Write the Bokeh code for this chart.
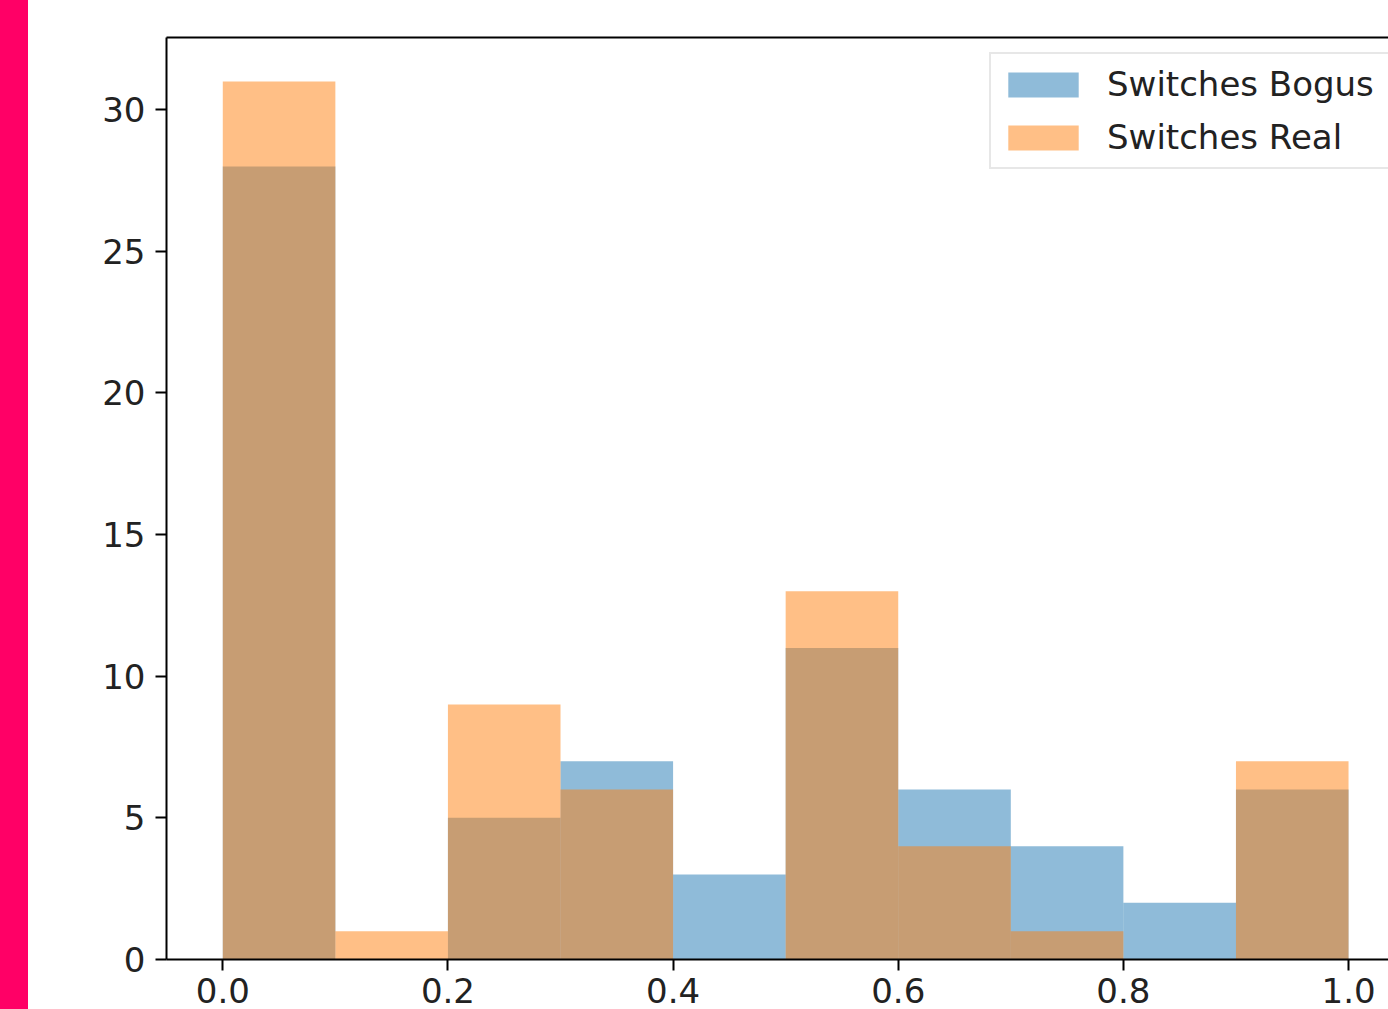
from bokeh.plotting import figure
from bokeh.models import (Range1d, FixedTicker, LinearAxis, Legend, LegendItem,
                          PrintfTickFormatter, Div, ColumnDataSource)
from bokeh.layouts import row
from bokeh.embed import file_html
from bokeh.resources import INLINE

# ---- data ----
bin_left = [0.0, 0.1, 0.2, 0.3, 0.4, 0.5, 0.6, 0.7, 0.8, 0.9]
bin_right = [0.1, 0.2, 0.3, 0.4, 0.5, 0.6, 0.7, 0.8, 0.9, 1.0]
bogus_counts = [28, 0, 5, 7, 3, 11, 6, 4, 2, 6]
real_counts = [31, 1, 9, 6, 0, 13, 4, 1, 0, 7]
x_ticks = [0.0, 0.2, 0.4, 0.6, 0.8, 1.0]
y_ticks = [0, 5, 10, 15, 20, 25, 30]
series_labels = ["Switches Bogus", "Switches Real"]

FONT = "DejaVu Sans"
TXT = "#222222"

W, H = 1360, 1009
p = figure(width=W, height=H, output_backend="svg", toolbar_location=None,
           x_range=Range1d(-0.05, 1.0355), y_range=Range1d(0, 32.55),
           min_border_left=138, min_border_top=37, min_border_right=0,
           min_border_bottom=50, outline_line_color=None,
           background_fill_color="white", border_fill_color="white")
p.xgrid.visible = False
p.ygrid.visible = False

src_b = ColumnDataSource(dict(left=bin_left, right=bin_right, top=bogus_counts,
                              bottom=[0] * len(bogus_counts)))
src_r = ColumnDataSource(dict(left=bin_left, right=bin_right, top=real_counts,
                              bottom=[0] * len(real_counts)))
rb = p.quad(left="left", right="right", top="top", bottom="bottom", source=src_b,
            fill_color="#1f77b4", fill_alpha=0.5, line_color=None)
rr = p.quad(left="left", right="right", top="top", bottom="bottom", source=src_r,
            fill_color="#ff7f0e", fill_alpha=0.5, line_color=None)

for ax in (p.xaxis[0], p.yaxis[0]):
    ax.axis_line_color = "black"
    ax.axis_line_width = 2
    ax.major_tick_line_color = "black"
    ax.major_tick_line_width = 2
    ax.major_tick_out = 11
    ax.major_tick_in = 0
    ax.minor_tick_line_color = None
    ax.major_label_text_font = FONT
    ax.major_label_text_font_size = "34px"
    ax.major_label_text_color = TXT

p.xaxis[0].ticker = FixedTicker(ticks=x_ticks)
p.xaxis[0].formatter = PrintfTickFormatter(format="%.1f")
p.xaxis[0].major_label_standoff = 7
p.yaxis[0].ticker = FixedTicker(ticks=y_ticks)
p.yaxis[0].formatter = PrintfTickFormatter(format="%d")
p.yaxis[0].major_label_standoff = 10

top_axis = LinearAxis(ticker=FixedTicker(ticks=[]), axis_line_color="black",
                      axis_line_width=2, major_tick_out=0, major_tick_in=0,
                      minor_tick_out=0, minor_tick_in=0,
                      major_label_text_font_size="0px")
p.add_layout(top_axis, "above")

legend = Legend(items=[LegendItem(label=series_labels[0], renderers=[rb]),
                       LegendItem(label=series_labels[1], renderers=[rr])],
                location=(823, 790),
                label_text_font=FONT, label_text_font_size="34px",
                label_text_color=TXT, glyph_width=88, glyph_height=31,
                label_height=44, label_width=300, label_standoff=20,
                spacing=9, padding=8,
                margin=0, border_line_color="#d0d0d0", border_line_width=2,
                background_fill_color="white", background_fill_alpha=0.8)
p.add_layout(legend, "center")

strip = Div(text="", width=28, height=H, margin=0,
            styles={"background-color": "#ff0066"})
layout = row(strip, p, spacing=0)

open("out.html", "w").write(file_html(layout, INLINE))
